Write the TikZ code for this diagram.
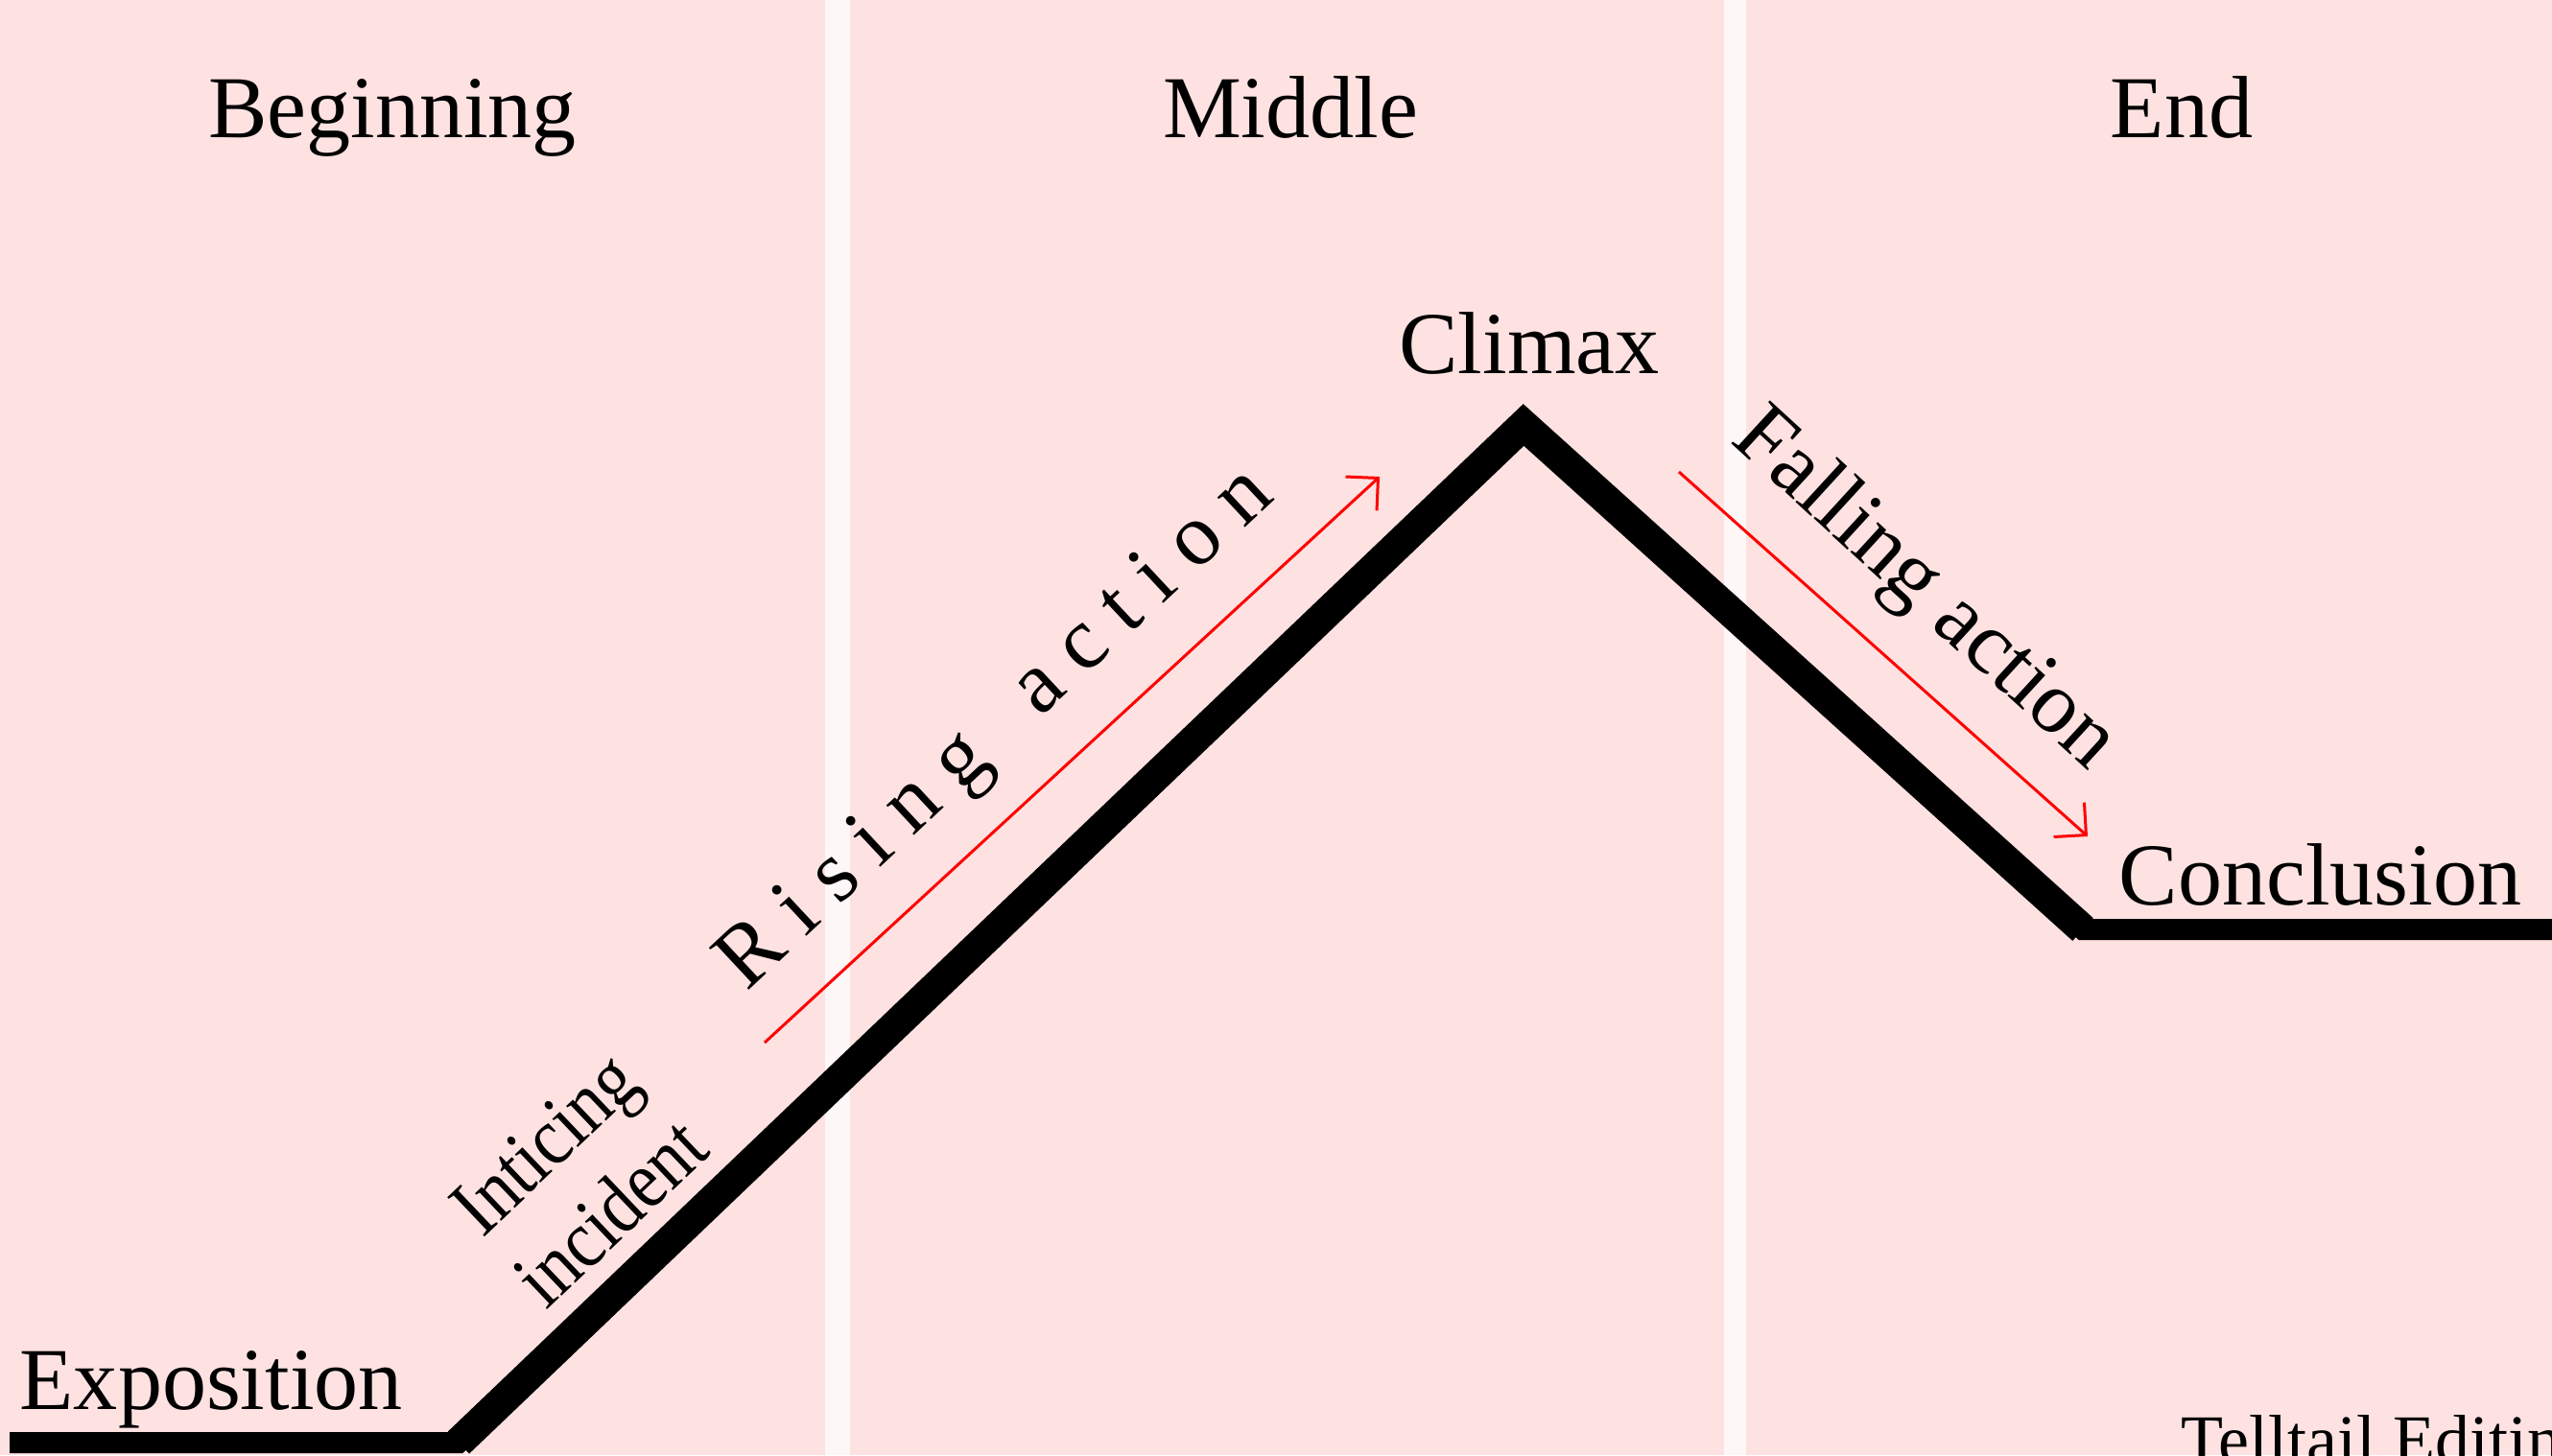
\documentclass[tikz,border=0pt]{standalone}
\usepackage{fontspec}
\setmainfont{Liberation Serif}
\newfontfamily\spacedserif{Liberation Serif}[LetterSpace=24]
\newfontfamily\narrowserif{Liberation Serif}[FakeStretch=0.86]
\usetikzlibrary{arrows.meta}
\definecolor{panelpink}{RGB}{253,226,225}
\definecolor{gapwhite}{RGB}{254,247,248}

\begin{document}
\begin{tikzpicture}[
  panel/.style={fill=panelpink, draw=none},
  label/.style={font=\fontsize{26.2}{31}\selectfont, inner sep=0pt},
  heading/.style={label, anchor=base},
  slanted/.style={label, align=center},
  flat/.style={line width=2.2mm, line join=miter, draw=black},
  arc/.style={line width=3.2mm, line join=miter, draw=black},
  action/.style={-{Straight Barb[length=2.4mm,width=4.8mm]}, draw=red, line width=0.3mm}
]
\clip (0,0) rectangle (26.6,15.17);
\fill[gapwhite] (0,0) rectangle (26.6,15.17);

% three acts
\fill[panel] (0,0) rectangle (8.60,15.17);
\fill[panel] (8.86,0) rectangle (17.97,15.17);
\fill[panel] (18.20,0) rectangle (26.6,15.17);

\node[heading] (beginning) at (4.09,13.73) {Beginning};
\node[heading] (middle) at (13.45,13.73) {Middle};
\node[heading] (ending) at (22.74,13.73) {End};

% story line
\coordinate (start) at (0.10,0.13);
\coordinate (incite) at (4.78,0.13);
\coordinate (peak) at (15.88,10.74);
\coordinate (settle) at (21.71,5.48);
\coordinate (finish) at (26.8,5.48);
\draw[flat] (start) -- (incite) -- (peak) -- (settle) -- (finish);
\draw[arc] (incite) -- (peak) -- (settle);

\node[heading, anchor=base west] (exposition) at (0.20,0.48) {Exposition};
\node[heading] (climax) at (15.94,11.27) {Climax};
\node[heading, anchor=base west] (conclusion) at (22.08,5.74) {Conclusion};

\node[slanted, rotate=43.5, font=\narrowserif\fontsize{24.5}{28.6}\selectfont]
  (inciting) at (6.02,2.89) {Inticing\\incident};

% red arrows with their labels
\coordinate (risefrom) at (7.97,4.30);
\coordinate (riseto) at (14.38,10.20);
\draw[action] (risefrom) -- (riseto);
\node[label, rotate=43, font=\spacedserif\fontsize{26.2}{31}\selectfont]
  (rising) at (10.40,7.55) {Rising~\hspace{0.25em}action};

\coordinate (fallfrom) at (17.50,10.25);
\coordinate (fallto) at (21.76,6.45);
\draw[action] (fallfrom) -- (fallto);
\node[label, rotate=-42.5] (falling) at (20.05,9.01) {Falling action};

\node[label, anchor=base west, font=\fontsize{20.5}{24}\selectfont]
  (credit) at (22.73,-0.08) {Telltail Editing};

\end{tikzpicture}
\end{document}
